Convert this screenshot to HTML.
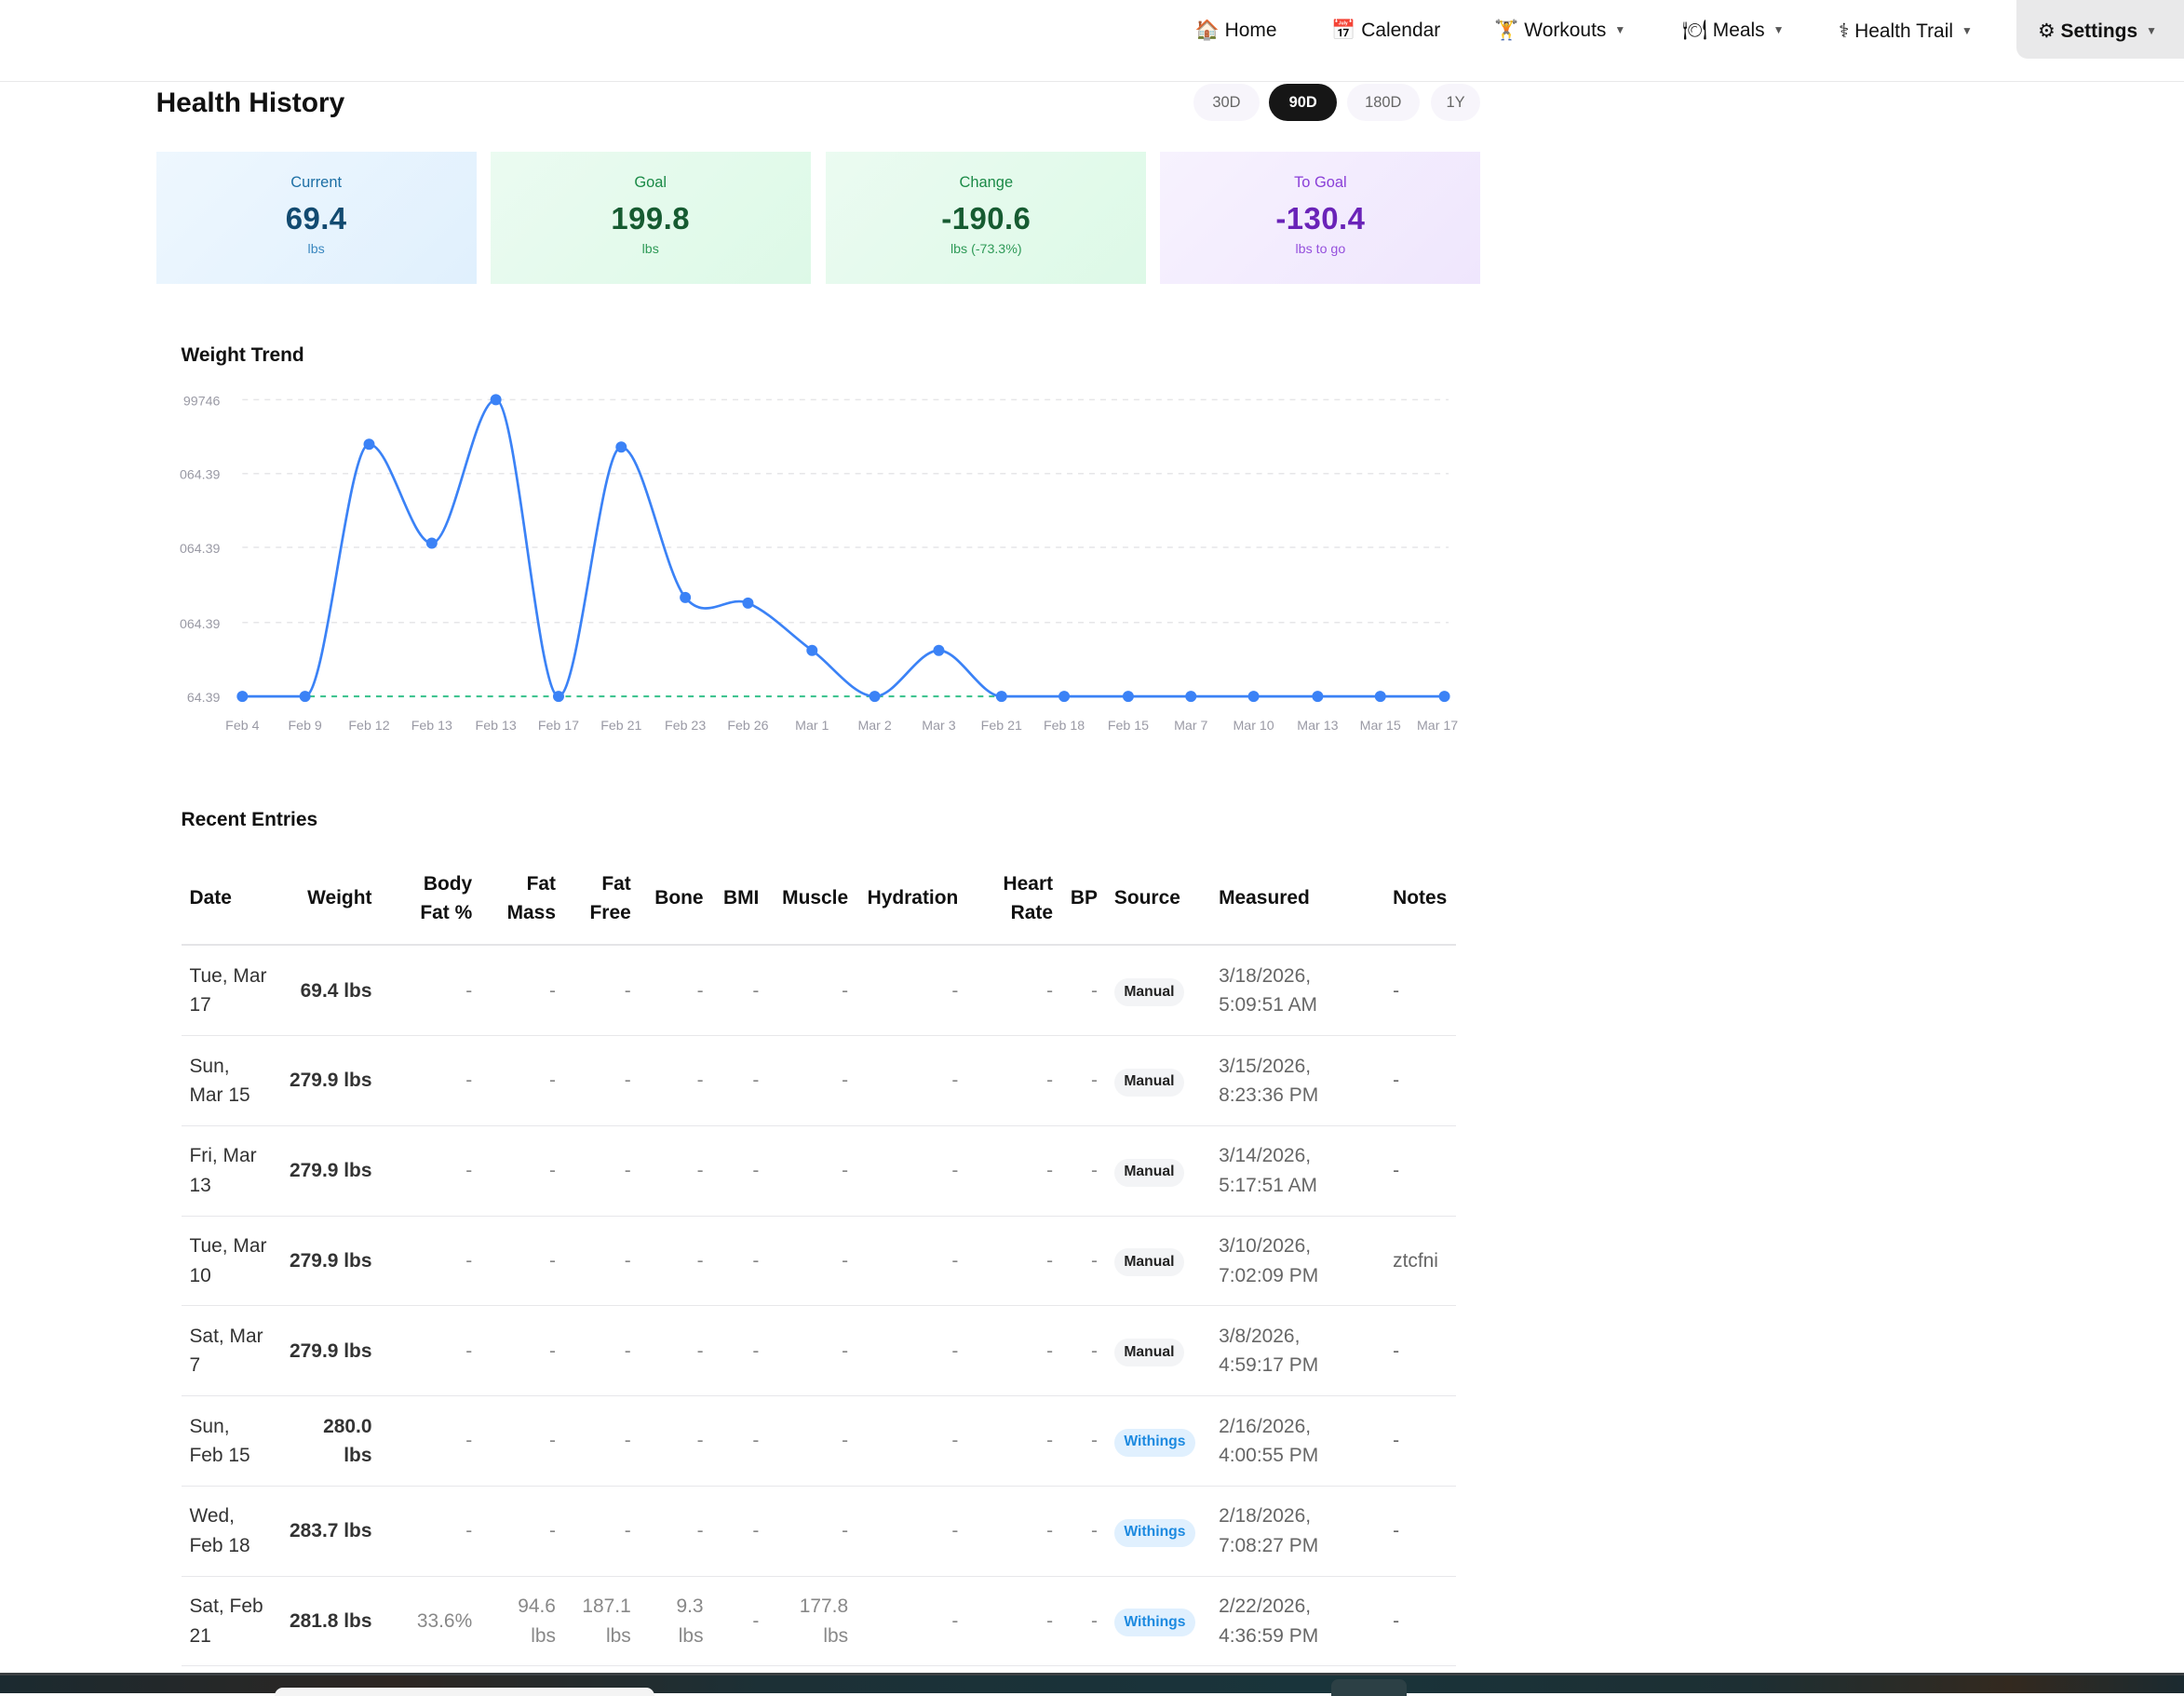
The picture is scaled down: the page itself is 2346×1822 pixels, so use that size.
<!DOCTYPE html>
<html><head><meta charset="utf-8">
<style>
html,body{margin:0;padding:0;background:#fff;overflow:hidden;width:2346px;height:1820px}
#w{position:absolute;left:0;top:0;width:1568px;height:1216px;zoom:1.4962;font-family:"Liberation Sans","DejaVu Sans",sans-serif;color:#111}
.a{position:absolute}
.nav{font-size:14px;color:#111;top:14px;white-space:nowrap}
.caret{font-size:8px;color:#555;margin-left:6px;vertical-align:2px}
.pill{position:absolute;top:60px;height:27px;border-radius:14px;background:#f7f5fb;font-size:11px;color:#666;text-align:center;line-height:27px}
.card{position:absolute;top:109px;width:230px;height:95px;text-align:center}
.card .l{margin-top:16px;font-size:11px}
.card .v{font-size:22px;font-weight:bold;margin-top:7px;letter-spacing:0.3px}
.card .u{font-size:9.5px;margin-top:4px}
table{position:absolute;left:130px;top:612px;border-collapse:collapse;table-layout:fixed;width:915px;font-size:14px}
th{font-weight:bold;font-size:14px;line-height:21px;height:66px;padding:0 6px;vertical-align:middle;border-bottom:2px solid #e4e4e7;color:#111;white-space:nowrap}
td{height:64px;padding:0 6px;line-height:21px;border-bottom:1px solid #e7e7ea;color:#333;vertical-align:middle;white-space:nowrap}
.r{text-align:right}.lft{text-align:left}
td.d{color:#888;text-align:right}
td.m{color:#666}
td.ms,th.ms{padding-left:9px}
td.nt,th.nt{padding-left:10px;padding-right:0}
.b{display:inline-block;font-size:10.5px;font-weight:bold;padding:3px 7px;border-radius:10px;line-height:14px}
.bm{background:#f3f4f6;color:#222}.bw{background:#e0f0fe;color:#1d8ae0}
</style></head><body><div id="w">
<div class="a" style="left:0;top:58px;width:1568px;height:1px;background:#e8e8ea"></div>
<div class="a nav" style="left:858px">🏠 Home</div>
<div class="a nav" style="left:956px">📅 Calendar</div>
<div class="a nav" style="left:1073px">🏋 Workouts<span class="caret">▼</span></div>
<div class="a nav" style="left:1208px">🍽 Meals<span class="caret">▼</span></div>
<div class="a nav" style="left:1320px">⚕ Health Trail<span class="caret">▼</span></div>
<div class="a" style="left:1448px;top:0;width:120px;height:42px;background:#e9e9ea;border-radius:0 0 0 8px"></div>
<div class="a nav" style="left:1463px;font-weight:bold">⚙ Settings<span class="caret">▼</span></div>

<div class="a" style="left:112px;top:63px;font-size:20px;font-weight:bold">Health History</div>
<div class="pill" style="left:857px;width:47px">30D</div>
<div class="pill" style="left:911px;width:49px;background:#161616;color:#fff;font-weight:bold">90D</div>
<div class="pill" style="left:967px;width:52px">180D</div>
<div class="pill" style="left:1027px;width:36px">1Y</div>

<div class="card" style="left:112px;background:linear-gradient(135deg,#eef7fe,#e0f0fd)"><div class="l" style="color:#1d6fa5">Current</div><div class="v" style="color:#124a70">69.4</div><div class="u" style="color:#3b88c0">lbs</div></div>
<div class="card" style="left:352px;background:linear-gradient(135deg,#ebfbf1,#ddf9e7)"><div class="l" style="color:#1b8a47">Goal</div><div class="v" style="color:#165b31">199.8</div><div class="u" style="color:#2e9a57">lbs</div></div>
<div class="card" style="left:593px;background:linear-gradient(135deg,#ebfbf1,#ddf9e7)"><div class="l" style="color:#1b8a47">Change</div><div class="v" style="color:#165b31">-190.6</div><div class="u" style="color:#2e9a57">lbs (-73.3%)</div></div>
<div class="card" style="left:833px;background:linear-gradient(135deg,#f7f2fe,#efe6fd)"><div class="l" style="color:#8a3fd8">To Goal</div><div class="v" style="color:#6a23b8">-130.4</div><div class="u" style="color:#9550dd">lbs to go</div></div>

<div class="a" style="left:130px;top:247px;font-size:14px;font-weight:bold">Weight Trend</div>
<svg class="a" style="left:0;top:0" width="1100" height="560" font-family="Liberation Sans, sans-serif">
<g stroke="#e6e6e8" stroke-dasharray="4 4" stroke-width="1">
<line x1="174" x2="1040" y1="287" y2="287"/><line x1="174" x2="1040" y1="340" y2="340"/><line x1="174" x2="1040" y1="393" y2="393"/><line x1="174" x2="1040" y1="447" y2="447"/>
</g>
<line x1="174" x2="1040" y1="500" y2="500" stroke="#34c08a" stroke-dasharray="4 4" stroke-width="1.3"/>
<g font-size="9.5" fill="#9a9aa5" text-anchor="end">
<text x="158" y="291">99746</text><text x="158" y="344">064.39</text><text x="158" y="397">064.39</text><text x="158" y="451">064.39</text><text x="158" y="504">64.39</text>
</g>
<g font-size="9.5" fill="#9a9aa5" text-anchor="middle">
<text x="174" y="524">Feb 4</text><text x="219" y="524">Feb 9</text><text x="265" y="524">Feb 12</text><text x="310" y="524">Feb 13</text><text x="356" y="524">Feb 13</text><text x="401" y="524">Feb 17</text><text x="446" y="524">Feb 21</text><text x="492" y="524">Feb 23</text><text x="537" y="524">Feb 26</text><text x="583" y="524">Mar 1</text><text x="628" y="524">Mar 2</text><text x="674" y="524">Mar 3</text><text x="719" y="524">Feb 21</text><text x="764" y="524">Feb 18</text><text x="810" y="524">Feb 15</text><text x="855" y="524">Mar 7</text><text x="900" y="524">Mar 10</text><text x="946" y="524">Mar 13</text><text x="991" y="524">Mar 15</text><text x="1032" y="524">Mar 17</text>
</g>
<path id="ln" fill="none" stroke="#3b82f6" stroke-width="1.8"/>
<g id="dots" fill="#3b82f6"></g>
</svg>
<script>
var X=[174,219,265,310,356,401,446,492,537,583,628,674,719,764,810,855,900,946,991,1037];
var Y=[500,500,319,390,287,500,321,429,433,467,500,467,500,500,500,500,500,500,500,500];
var n=X.length,m=[],d=[];
for(var i=0;i<n-1;i++)d.push((Y[i+1]-Y[i])/(X[i+1]-X[i]));
for(i=0;i<n;i++){if(i==0)m.push(d[0]);else if(i==n-1)m.push(d[n-2]);else m.push(d[i-1]*d[i]<=0?0:(d[i-1]+d[i])/2);}
for(i=0;i<n-1;i++){if(d[i]==0){m[i]=0;m[i+1]=0;}}
var p="M"+X[0]+","+Y[0];
for(i=0;i<n-1;i++){var h=(X[i+1]-X[i])/3;p+=" C"+(X[i]+h)+","+(Y[i]+m[i]*h)+" "+(X[i+1]-h)+","+(Y[i+1]-m[i+1]*h)+" "+X[i+1]+","+Y[i+1];}
document.getElementById("ln").setAttribute("d",p);
var g="";for(i=0;i<n;i++)g+='<circle cx="'+X[i]+'" cy="'+Y[i]+'" r="4"/>';
document.getElementById("dots").innerHTML=g;
</script>

<div class="a" style="left:130px;top:581px;font-size:14px;font-weight:bold">Recent Entries</div>
<table>
<colgroup><col style="width:65px"><col style="width:78px"><col style="width:72px"><col style="width:60px"><col style="width:54px"><col style="width:52px"><col style="width:40px"><col style="width:64px"><col style="width:79px"><col style="width:68px"><col style="width:32px"><col style="width:72px"><col style="width:124px"><col style="width:55px"></colgroup>
<tr><th class="lft">Date</th><th class="r">Weight</th><th class="r">Body<br>Fat %</th><th class="r">Fat<br>Mass</th><th class="r">Fat<br>Free</th><th class="r">Bone</th><th class="r">BMI</th><th class="r">Muscle</th><th class="r">Hydration</th><th class="r">Heart<br>Rate</th><th class="r">BP</th><th class="lft">Source</th><th class="lft ms">Measured</th><th class="lft nt">Notes</th></tr>
<tr><td>Tue, Mar<br>17</td><td class="r"><b>69.4 lbs</b></td><td class="d">-</td><td class="d">-</td><td class="d">-</td><td class="d">-</td><td class="d">-</td><td class="d">-</td><td class="d">-</td><td class="d">-</td><td class="d">-</td><td><span class="b bm">Manual</span></td><td class="m ms">3/18/2026,<br>5:09:51 AM</td><td class="m nt">-</td></tr>
<tr><td>Sun,<br>Mar 15</td><td class="r"><b>279.9 lbs</b></td><td class="d">-</td><td class="d">-</td><td class="d">-</td><td class="d">-</td><td class="d">-</td><td class="d">-</td><td class="d">-</td><td class="d">-</td><td class="d">-</td><td><span class="b bm">Manual</span></td><td class="m ms">3/15/2026,<br>8:23:36 PM</td><td class="m nt">-</td></tr>
<tr><td>Fri, Mar<br>13</td><td class="r"><b>279.9 lbs</b></td><td class="d">-</td><td class="d">-</td><td class="d">-</td><td class="d">-</td><td class="d">-</td><td class="d">-</td><td class="d">-</td><td class="d">-</td><td class="d">-</td><td><span class="b bm">Manual</span></td><td class="m ms">3/14/2026,<br>5:17:51 AM</td><td class="m nt">-</td></tr>
<tr><td>Tue, Mar<br>10</td><td class="r"><b>279.9 lbs</b></td><td class="d">-</td><td class="d">-</td><td class="d">-</td><td class="d">-</td><td class="d">-</td><td class="d">-</td><td class="d">-</td><td class="d">-</td><td class="d">-</td><td><span class="b bm">Manual</span></td><td class="m ms">3/10/2026,<br>7:02:09 PM</td><td class="m nt">ztcfni</td></tr>
<tr><td>Sat, Mar<br>7</td><td class="r"><b>279.9 lbs</b></td><td class="d">-</td><td class="d">-</td><td class="d">-</td><td class="d">-</td><td class="d">-</td><td class="d">-</td><td class="d">-</td><td class="d">-</td><td class="d">-</td><td><span class="b bm">Manual</span></td><td class="m ms">3/8/2026,<br>4:59:17 PM</td><td class="m nt">-</td></tr>
<tr><td>Sun,<br>Feb 15</td><td class="r"><b>280.0<br>lbs</b></td><td class="d">-</td><td class="d">-</td><td class="d">-</td><td class="d">-</td><td class="d">-</td><td class="d">-</td><td class="d">-</td><td class="d">-</td><td class="d">-</td><td><span class="b bw">Withings</span></td><td class="m ms">2/16/2026,<br>4:00:55 PM</td><td class="m nt">-</td></tr>
<tr><td>Wed,<br>Feb 18</td><td class="r"><b>283.7 lbs</b></td><td class="d">-</td><td class="d">-</td><td class="d">-</td><td class="d">-</td><td class="d">-</td><td class="d">-</td><td class="d">-</td><td class="d">-</td><td class="d">-</td><td><span class="b bw">Withings</span></td><td class="m ms">2/18/2026,<br>7:08:27 PM</td><td class="m nt">-</td></tr>
<tr><td>Sat, Feb<br>21</td><td class="r"><b>281.8 lbs</b></td><td class="d">33.6%</td><td class="d">94.6<br>lbs</td><td class="d">187.1<br>lbs</td><td class="d">9.3<br>lbs</td><td class="d">-</td><td class="d">177.8<br>lbs</td><td class="d">-</td><td class="d">-</td><td class="d">-</td><td><span class="b bw">Withings</span></td><td class="m ms">2/22/2026,<br>4:36:59 PM</td><td class="m nt">-</td></tr>
</table>

<div class="a" style="left:0;top:1201px;width:1568px;height:15px;background:linear-gradient(90deg,#1b2a30,#2d2622 18%,#1c3036 35%,#19343b 60%,#1d2f33 80%,#33291f 92%,#1b2a30)"></div>
<div class="a" style="left:0;top:1201px;width:1568px;height:2px;background:#3a3f42"></div>
<div class="a" style="left:197px;top:1212px;width:273px;height:6px;background:#f4f4f4;border-radius:6px 6px 0 0"></div>
<div class="a" style="left:956px;top:1206px;width:54px;height:12px;background:#2c4045;border-radius:5px 5px 0 0"></div>
</div></body></html>
